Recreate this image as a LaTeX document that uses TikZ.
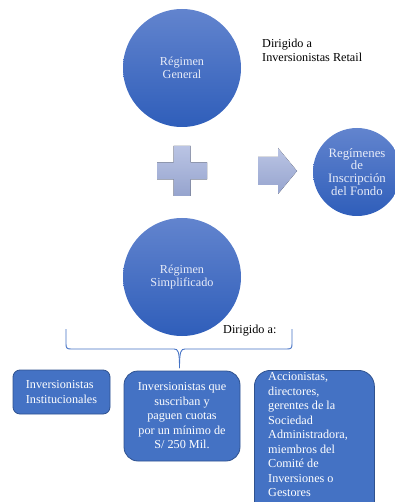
\documentclass[tikz,border=0pt]{standalone}
\usepackage{fontspec}
\setmainfont{Liberation Serif}
\definecolor{bubbletop}{RGB}{98,132,206}
\definecolor{bubblebot}{RGB}{47,94,186}
\definecolor{bubbletext}{RGB}{232,236,248}
\definecolor{signtop}{RGB}{186,196,228}
\definecolor{signbot}{RGB}{150,164,206}
\definecolor{boxfill}{RGB}{68,114,196}
\definecolor{boxline}{RGB}{47,82,143}
\definecolor{bracecol}{RGB}{68,114,196}
\begin{document}
\begin{tikzpicture}[x=1pt,y=-1pt,
  bubble/.style={circle, inner sep=0pt, minimum size=#1, top color=bubbletop,
    bottom color=bubblebot, draw=none, text=bubbletext, align=center,
    font=\fontsize{12.2}{13}\selectfont},
  sign/.style={top color=signtop, bottom color=signbot, draw=none},
  note/.style={inner sep=0pt, align=left, font=\fontsize{12.2}{14.5}\selectfont},
  card/.style={rectangle, fill=boxfill, draw=boxline, line width=0.8pt,
    inner sep=0pt},
  cardtext/.style={inner sep=0pt, text=white, font=\fontsize{12.2}{14.5}\selectfont}
]
\useasboundingbox (0,0) rectangle (394,502);

% the three regimes
\node[bubble=118pt] (general) at (182,68) {Régimen\\General};
\node[bubble=118pt] (simple) at (182,277) {Régimen\\Simplificado};
\node[bubble=88pt, font=\fontsize{12.8}{12.9}\selectfont] (fondo) at (357,172)
  {Regímenes\\de\\Inscripción\\del Fondo};

% plus sign and arrow
\fill[sign] (173.5,146) -- (190.5,146) -- (190.5,162.5) -- (207,162.5) -- (207,179.5)
  -- (190.5,179.5) -- (190.5,196) -- (173.5,196) -- (173.5,179.5) -- (157,179.5)
  -- (157,162.5) -- (173.5,162.5) -- cycle;
\fill[sign] (258,157) -- (278,157) -- (278,148) -- (297,171) -- (278,194)
  -- (278,185) -- (258,185) -- cycle;

% captions
\node[note, anchor=west] (retail) at (262,50.5) {Dirigido a\\Inversionistas Retail};
\node[note, anchor=west] (dirigido) at (223,331) {Dirigido a:};

% brace over the three investor groups
\coordinate (tip) at (179.5,368);
\draw[bracecol, line width=0.9pt]
  (66,329) -- (66,344) .. controls (66,348) and (67,349) .. (71,349)
  -- (174,349) .. controls (178,349) and (179.5,351) .. (tip);
\draw[bracecol, line width=0.9pt]
  (292,329) -- (292,344) .. controls (292,348) and (291,349) .. (287,349)
  -- (185,349) .. controls (181,349) and (179.5,351) .. (tip);

% investor groups
\node[card, rounded corners=7pt, minimum width=97pt, minimum height=44pt]
  (inst) at (61.5,392) {};
\node[cardtext, align=left] (insttext) at (inst.center)
  {Inversionistas\\Institucionales};

\node[card, rounded corners=14pt, minimum width=116pt, minimum height=90pt,
  cardtext, align=center] (cuotas) at (182,416)
  {Inversionistas que\\suscriban y\\paguen cuotas\\por un mínimo de\\S/ 250 Mil.};

\node[card, rounded corners=16pt, minimum width=120pt, minimum height=150pt,
  anchor=north west] (gestores) at (254,370) {};
\node[cardtext, align=left, anchor=north west] (gestorestext) at (268,372.5)
  {Accionistas,\\directores,\\gerentes de la\\Sociedad\\Administradora,\\miembros del\\Comité de\\Inversiones o\\Gestores};
\end{tikzpicture}
\end{document}
